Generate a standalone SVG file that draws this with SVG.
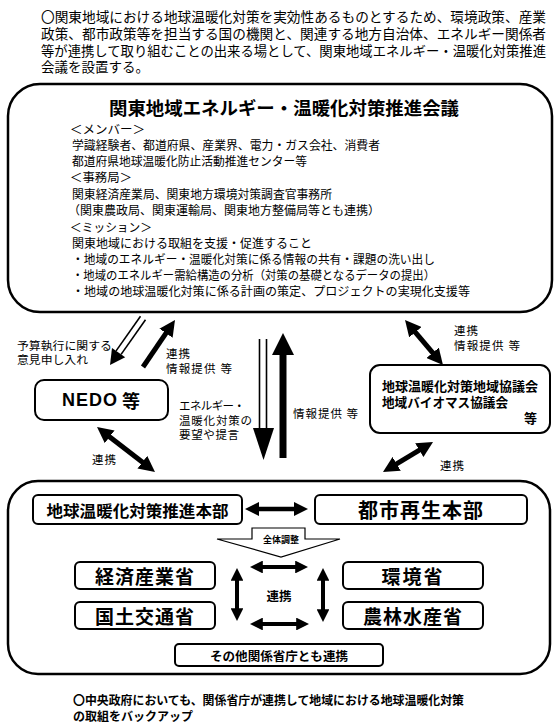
<svg xmlns="http://www.w3.org/2000/svg" width="560" height="722" viewBox="0 0 560 722">
<style>
text{font-family:"Noto Sans CJK JP","Noto Sans CJK SC",sans-serif;fill:#000;dominant-baseline:central}
.b{font-weight:bold}
.box{fill:#fff;stroke:#000;stroke-width:2}
.big{fill:#fff;stroke:#000;stroke-width:2.5}
.ar{stroke:#000;fill:none}
.thin{stroke:#000;stroke-width:1.6;fill:none}
.body{font-size:12px}
.lbl{font-size:11.5px}
</style>
<defs>
<marker id="ah" viewBox="0 0 10 10" refX="4" refY="5" markerWidth="3.2" markerHeight="3.2" markerUnits="strokeWidth" orient="auto-start-reverse">
<path d="M0,0 L10,5 L0,10 z" fill="#000"/>
</marker>
</defs>
<rect width="560" height="722" fill="#fff"/>

<g id="intro" font-size="13.5">
<text x="41" y="16" textLength="505" lengthAdjust="spacingAndGlyphs">〇関東地域における地球温暖化対策を実効性あるものとするため、環境政策、産業</text>
<text x="41" y="33" textLength="505" lengthAdjust="spacingAndGlyphs">政策、都市政策等を担当する国の機関と、関連する地方自治体、エネルギー関係者</text>
<text x="41" y="50" textLength="505" lengthAdjust="spacingAndGlyphs">等が連携して取り組むことの出来る場として、関東地域エネルギー・温暖化対策推進</text>
<text x="41" y="66">会議を設置する。</text>
</g>

<g id="council">
<rect class="big" x="8" y="84" width="544" height="228" rx="32"/>
<text class="b" x="109" y="107" font-size="18" textLength="350" lengthAdjust="spacingAndGlyphs">関東地域エネルギー・温暖化対策推進会議</text>
<g class="body">
<text x="70" y="128" textLength="75" lengthAdjust="spacingAndGlyphs">＜メンバー＞</text>
<text x="72" y="144" textLength="308" lengthAdjust="spacingAndGlyphs">学識経験者、都道府県、産業界、電力・ガス会社、消費者</text>
<text x="72" y="160" textLength="235" lengthAdjust="spacingAndGlyphs">都道府県地球温暖化防止活動推進センター等</text>
<text x="70" y="176.5" textLength="62" lengthAdjust="spacingAndGlyphs">＜事務局＞</text>
<text x="72" y="193" textLength="260" lengthAdjust="spacingAndGlyphs">関東経済産業局、関東地方環境対策調査官事務所</text>
<text x="68" y="209.5" textLength="312" lengthAdjust="spacingAndGlyphs">（関東農政局、関東運輸局、関東地方整備局等とも連携）</text>
<text x="70" y="226" textLength="82" lengthAdjust="spacingAndGlyphs">＜ミッション＞</text>
<text x="72" y="242" textLength="240" lengthAdjust="spacingAndGlyphs">関東地域における取組を支援・促進すること</text>
<text x="72" y="258" textLength="363" lengthAdjust="spacingAndGlyphs">・地域のエネルギー・温暖化対策に係る情報の共有・課題の洗い出し</text>
<text x="72" y="274" textLength="363" lengthAdjust="spacingAndGlyphs">・地域のエネルギー需給構造の分析（対策の基礎となるデータの提出）</text>
<text x="72" y="290" textLength="398" lengthAdjust="spacingAndGlyphs">・地域の地球温暖化対策に係る計画の策定、プロジェクトの実現化支援等</text>
</g>
</g>

<g id="nedo">
<rect class="box" x="35" y="380" width="133" height="40" rx="9"/>
<text class="b" x="101" y="400" text-anchor="middle" font-size="18"><tspan font-family="Liberation Sans, sans-serif" letter-spacing="1">NEDO</tspan> 等</text>
</g>

<g id="regional">
<rect class="box" x="370" y="365" width="180" height="68" rx="10"/>
<text class="b" x="382" y="385" font-size="13" textLength="156" lengthAdjust="spacingAndGlyphs">地球温暖化対策地域協議会</text>
<text class="b" x="382" y="401" font-size="13" textLength="126" lengthAdjust="spacingAndGlyphs">地域バイオマス協議会</text>
<text class="b" x="537" y="417" font-size="13" text-anchor="end">等</text>
</g>

<g id="central">
<rect class="big" x="8" y="481" width="542" height="193" rx="30"/>
</g>

<g id="hq-warming">
<rect class="box" x="33" y="495" width="209" height="29" rx="5"/>
<text class="b" x="137.5" y="509.5" font-size="16" text-anchor="middle" textLength="182" lengthAdjust="spacingAndGlyphs">地球温暖化対策推進本部</text>
</g>
<g id="hq-urban">
<rect class="box" x="315" y="495" width="212" height="29" rx="5"/>
<text class="b" x="421" y="509.5" font-size="20" text-anchor="middle" letter-spacing="1">都市再生本部</text>
</g>
<g id="meti">
<rect class="box" x="75" y="562" width="140" height="27" rx="5"/>
<text class="b" x="145" y="575.5" font-size="19" text-anchor="middle" letter-spacing="1">経済産業省</text>
</g>
<g id="moe">
<rect class="box" x="343" y="562" width="140" height="27" rx="5"/>
<text class="b" x="413" y="575.5" font-size="19" text-anchor="middle" letter-spacing="2">環境省</text>
</g>
<g id="mlit">
<rect class="box" x="75" y="602" width="140" height="27" rx="5"/>
<text class="b" x="145" y="615.5" font-size="19" text-anchor="middle" letter-spacing="1">国土交通省</text>
</g>
<g id="maff">
<rect class="box" x="343" y="602" width="140" height="27" rx="5"/>
<text class="b" x="413" y="615.5" font-size="19" text-anchor="middle" letter-spacing="1">農林水産省</text>
</g>
<g id="others">
<rect class="box" x="175" y="644" width="208" height="22" rx="4"/>
<text class="b" x="279" y="655" font-size="12.5" text-anchor="middle" textLength="138" lengthAdjust="spacingAndGlyphs">その他関係省庁とも連携</text>
</g>

<g id="connectors">
<line class="thin" x1="145.5" y1="319.7" x2="121.1" y2="354.4"/>
<line class="thin" x1="140.5" y1="316.3" x2="116.1" y2="350.9"/>
<polygon points="110,365 125.2,357.3 112,348.1" fill="#000"/>
<line class="ar" stroke-width="5" x1="143" y1="367" x2="169.6" y2="327.9" marker-end="url(#ah)"/>
<line class="thin" x1="259.5" y1="339" x2="259.5" y2="429"/>
<line class="thin" x1="266.5" y1="339" x2="266.5" y2="429"/>
<polygon points="253,428 274,428 263.5,460" fill="#000"/>
<line class="ar" stroke-width="7" x1="283" y1="458" x2="283" y2="346.4" marker-end="url(#ah)"/>
<line class="ar" stroke-width="5" x1="411.2" y1="327.3" x2="436.8" y2="357.7" marker-start="url(#ah)" marker-end="url(#ah)"/>
<line class="ar" stroke-width="5" x1="424.8" y1="446.9" x2="391.2" y2="467.1" marker-start="url(#ah)" marker-end="url(#ah)"/>
<line class="ar" stroke-width="5" x1="104.6" y1="432.9" x2="147.4" y2="466.1" marker-start="url(#ah)" marker-end="url(#ah)"/>
<line class="ar" stroke-width="4.5" x1="253.6" y1="509" x2="299.4" y2="509" marker-start="url(#ah)" marker-end="url(#ah)"/>
<polygon points="252,528 305,528 305,539 340,539 281,557 217,539 252,539" fill="#fff" stroke="#000" stroke-width="1.2"/>
<line class="ar" stroke-width="4" x1="257.7" y1="567" x2="300.3" y2="567" marker-start="url(#ah)" marker-end="url(#ah)"/>
<line class="ar" stroke-width="4" x1="257.7" y1="624" x2="301.3" y2="624" marker-start="url(#ah)" marker-end="url(#ah)"/>
<line class="ar" stroke-width="4" x1="237" y1="575.7" x2="237" y2="613.3" marker-start="url(#ah)" marker-end="url(#ah)"/>
<line class="ar" stroke-width="4" x1="323" y1="575.7" x2="323" y2="614.3" marker-start="url(#ah)" marker-end="url(#ah)"/>
</g>

<g id="labels">
<text class="lbl" x="17" y="345" textLength="95" lengthAdjust="spacingAndGlyphs">予算執行に関する</text>
<text class="lbl" x="17" y="359" textLength="71" lengthAdjust="spacingAndGlyphs">意見申し入れ</text>
<text class="lbl" x="166" y="353" letter-spacing="1">連携</text>
<text class="lbl" x="166" y="368" textLength="66" lengthAdjust="spacing">情報提供 等</text>
<text class="lbl" x="179" y="405" textLength="66" lengthAdjust="spacing">エネルギー・</text>
<text class="lbl" x="179" y="420" textLength="73" lengthAdjust="spacing">温暖化対策の</text>
<text class="lbl" x="179" y="434" textLength="60" lengthAdjust="spacing">要望や提言</text>
<text class="lbl" x="293" y="413" textLength="65" lengthAdjust="spacing">情報提供 等</text>
<text class="lbl" x="454" y="330" letter-spacing="1">連携</text>
<text class="lbl" x="454" y="345" textLength="66" lengthAdjust="spacing">情報提供 等</text>
<text class="lbl" x="92" y="459" letter-spacing="1">連携</text>
<text class="lbl" x="440" y="465" letter-spacing="1">連携</text>
<text class="b" x="281" y="539" font-size="9" text-anchor="middle">全体調整</text>
<text class="b" x="279" y="595" font-size="12.5" text-anchor="middle">連携</text>
</g>

<g id="footer" font-size="12">
<text class="b" x="73" y="699" textLength="391" lengthAdjust="spacingAndGlyphs">〇中央政府においても、関係省庁が連携して地域における地球温暖化対策</text>
<text class="b" x="73" y="715">の取組をバックアップ</text>
</g>
</svg>
